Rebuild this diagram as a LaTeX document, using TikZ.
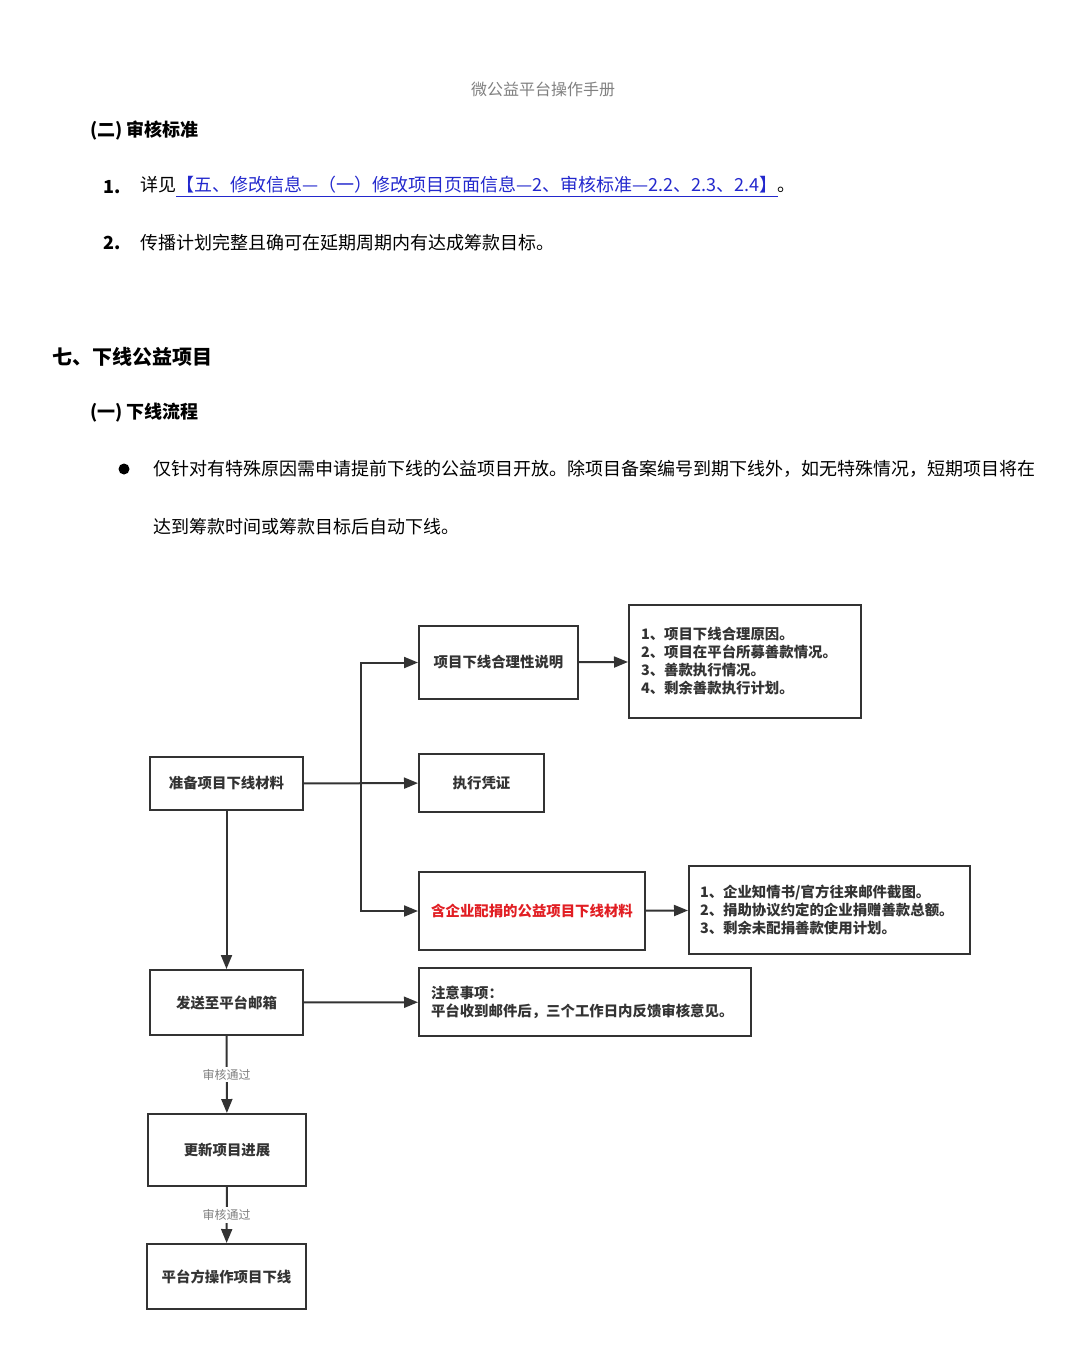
\documentclass[tikz,border=0pt]{standalone}
\usepackage{fontspec}
\setmainfont{Noto Sans CJK SC}
\usetikzlibrary{arrows.meta}
\definecolor{linkblue}{RGB}{35,40,205}
\definecolor{corpred}{RGB}{225,30,35}
\definecolor{inkgray}{RGB}{51,51,51}

\begin{document}
\begin{tikzpicture} [
  x=0.5pt,
  y=-0.5pt,
  >={Triangle[length=7pt, width=5.5pt]},
  body/.style={anchor=west, inner sep=0pt, font=\fontsize{9}{11}\selectfont},
  head/.style={anchor=west, inner sep=0pt, font=\fontsize{9}{11}\selectfont\bfseries},
  box/.style={draw=inkgray, line width=1pt, text=inkgray, inner sep=0pt, font=\fontsize{7.2}{9}\selectfont\bfseries},
  list/.style={box, align=left, inner xsep=6pt, font=\fontsize{7.2}{9}\selectfont\bfseries},
  flow/.style={->, draw=inkgray, line width=1pt},
  pass/.style={fill=white, text=gray, inner sep=1pt, font=\fontsize{6}{7}\selectfont}
  ]
  \useasboundingbox (0,0) rectangle (1080,1355);

  \node(title)[body, anchor=center, text=gray, font=\fontsize{8}{10}\selectfont, at={(543,89)}]{微公益平台操作手册};
  \node(sec2)[head, at={(90,131)}]{(二) 审核标准};
  \node(num1)[head, at={(103,187)}]{1.};
  \node(item1)[body, at={(140,187)}]{详见{\color{linkblue}\underline{【五、修改信息—（一）修改项目页面信息—2、审核标准—2.2、2.3、2.4】}}。};
  \node(num2)[head, at={(103,243)}]{2.};
  \node(item2)[body, at={(140,243)}]{传播计划完整且确可在延期周期内有达成筹款目标。};
  \node(chap7)[head, font=\fontsize{10}{12}\selectfont\bfseries, at={(52,357)}]{七、下线公益项目};
  \node(sec1)[head, at={(90,413)}]{(一) 下线流程};
  \node(dot)[circle, fill, inner sep=0pt, minimum size=5.5pt, at={(124,469)}]{};
  \node(line1)[body, at={(153,469)}]{仅针对有特殊原因需申请提前下线的公益项目开放。除项目备案编号到期下线外，如无特殊情况，短期项目将在};
  \node(line2)[body, at={(153,527)}]{达到筹款时间或筹款目标后自动下线。};

  \node(material)[box, minimum width=76.5pt, minimum height=26.5pt, at={(226.5,783.5)}]{准备项目下线材料};
  \node(reason)[box, minimum width=79.5pt, minimum height=36.5pt, at={(498.5,662.5)}]{项目下线合理性说明};
  \node(list1)[list, text width=104pt, minimum height=56.5pt, at={(745,661.5)}]{1、项目下线合理原因。\\2、项目在平台所募善款情况。\\3、善款执行情况。\\4、剩余善款执行计划。};
  \node(voucher)[box, minimum width=62.5pt, minimum height=29pt, at={(481.5,783)}]{执行凭证};
  \node(corp)[box, text=corpred, minimum width=113pt, minimum height=39pt, at={(532,911)}]{含企业配捐的公益项目下线材料};
  \node(list2)[list, inner xsep=5.5pt, text width=129.5pt, minimum height=44pt, at={(829.5,910)}]{1、企业知情书/官方往来邮件截图。\\2、捐助协议约定的企业捐赠善款总额。\\3、剩余未配捐善款使用计划。};
  \node(send)[box, minimum width=76.5pt, minimum height=32.5pt, at={(226.5,1002.5)}]{发送至平台邮箱};
  \node(note)[list, text width=154pt, minimum height=34pt, at={(585,1002)}]{注意事项：\\平台收到邮件后，三个工作日内反馈审核意见。};
  \node(update)[box, minimum width=79pt, minimum height=36pt, at={(227,1150)}]{更新项目进展};
  \node(offline)[box, minimum width=79.5pt, minimum height=32.5pt, at={(226.5,1276.5)}]{平台方操作项目下线};
  \coordinate(bus) at (361,783.5);

  \draw[flow] (material) -- (voucher);
  \draw[flow] (bus) |- (reason);
  \draw[flow] (bus) |- (corp);
  \draw[flow] (reason) -- (list1);
  \draw[flow] (corp) -- (list2);
  \draw[flow] (material) -- (send);
  \draw[flow] (send) -- (note);
  \draw[flow] (send) -- node[pass]{审核通过} (update);
  \draw[flow] (update) -- node[pass]{审核通过} (offline);
\end{tikzpicture}
\end{document}
